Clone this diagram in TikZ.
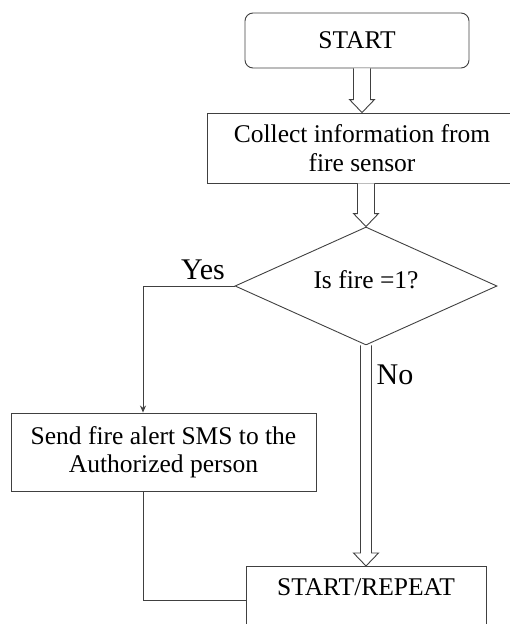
\documentclass[tikz,border=0pt]{standalone}
\usepackage{fontspec}
\setmainfont{Liberation Serif}
\usetikzlibrary{shapes.geometric,calc,arrows.meta}
\definecolor{linegray}{RGB}{64,64,64}
\tikzset{>={Stealth[length=7pt,width=6pt]}}
\tikzset{
    box/.style={draw=linegray, line width=0.9pt, align=center, inner sep=0pt,
        font=\fontsize{25.5}{28.5}\selectfont},
    decision/.style={diamond, draw=linegray, line width=0.9pt, aspect=2.2, inner sep=0pt,
        font=\fontsize{25.5}{28}\selectfont, text depth=12pt},
    flow/.style={draw=linegray, line width=0.9pt},
    hollow/.style={draw=linegray, line width=0.9pt, fill=white},
    answer/.style={font=\fontsize{30}{32}\selectfont, anchor=base, inner sep=0pt},
}
% hollow block arrow: [half shaft width]{from}{tip}
\newcommand{\hollowarrow}[3][8.5pt]{%
    \draw[hollow] let \p1=(#2), \p2=(#3) in
        (\x2-#1,\y1) -- (\x2-#1,\y2+13pt) -- (\x2-12.5pt,\y2+13pt) -- (\x2,\y2)
        -- (\x2+12.5pt,\y2+13pt) -- (\x2+#1,\y2+13pt) -- (\x2+#1,\y1);}

\begin{document}
\begin{tikzpicture}[x=1pt,y=1pt]
    \useasboundingbox (0,0) rectangle (509,-624);
    % nodes
    \node[box, rounded corners=8pt, minimum width=224pt, minimum height=55pt] (start) at (357,-40.5) {START};
    \node[box, minimum width=310pt, minimum height=70pt] (collect) at (362,-148) {Collect information from\\fire sensor};
    \node[decision, minimum width=262pt, minimum height=118pt] (test) at (366,-286) {Is fire =1?};
    \node[box, minimum width=305pt, minimum height=78pt] (send) at (163.5,-452) {Send fire alert SMS to the\\Authorized person};
    \node[box, anchor=north, minimum width=240pt, text height=23pt, text depth=60pt, inner ysep=6pt] (repeat) at (366,-566) {START/REPEAT};
    \node[answer] (yes) at (203,-279) {Yes};
    \node[answer] (no) at (395,-384) {No};
    % connectors
    \hollowarrow{start.south -| collect.north}{collect.north}
    \hollowarrow{collect.south -| test.north}{test.north}
    \hollowarrow[5.5pt]{test.south}{repeat.north}
    \draw[flow,->] (test.west) -| ([xshift=-20.5pt]send.north);
    \draw[flow] ([xshift=-20.5pt]send.south) |- ([yshift=-34pt]repeat.north west);
\end{tikzpicture}
\end{document}
